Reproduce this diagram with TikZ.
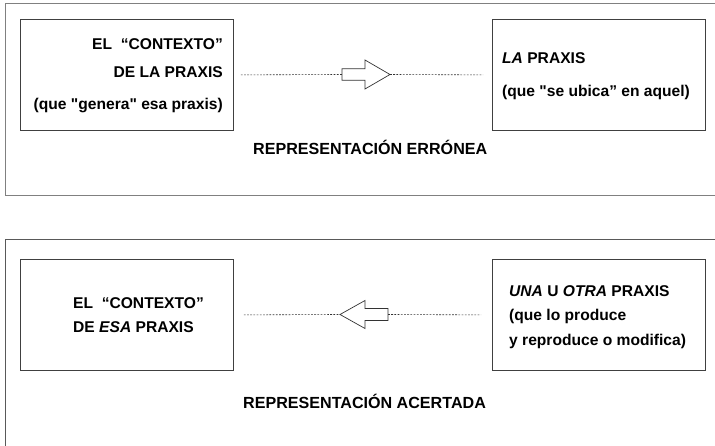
\documentclass[tikz,border=0pt]{standalone}
\usepackage{fontspec}
\setmainfont[Ligatures=TeXOff]{Liberation Sans}
\begin{document}
\begin{tikzpicture}[x=1pt,y=-1pt,
  frame/.style={draw=black!50,line width=1pt},
  box/.style={draw=black!75,line width=0.8pt,rectangle,inner sep=0pt,minimum width=213pt,minimum height=111pt},
  txt/.style={inner sep=0pt,font=\fontsize{15.6}{18}\selectfont\bfseries},
  ttl/.style={inner sep=0pt,font=\fontsize{16.1}{18}\selectfont\bfseries},
  dotline/.style={draw=black!80,line width=0.6pt,dash pattern=on 1.8pt off 1.4pt},
  blockarrow/.style={draw=black!80,line width=0.7pt,fill=white,line join=miter}]
\useasboundingbox (0,0) rectangle (715,446);
% frames
\draw[frame] (716,4) -- (5,4) -- (5,196) -- (716,196);
\draw[frame,draw=black!65] (716,240) -- (5,240) -- (5,447);
% boxes
\node[box,anchor=north west] (b1) at (20,19) {};
\node[box,anchor=north west] (b2) at (492,19) {};
\node[box,anchor=north west] (b3) at (20,259) {};
\node[box,anchor=north west] (b4) at (492,259) {};
% texts box 1
\node[txt,anchor=base east] (t11) at (223,50) {EL\ \ “CONTEXTO”};
\node[txt,anchor=base east] (t12) at (223,78) {DE LA PRAXIS};
\node[txt,anchor=base east] (t13) at (223,110) {(que "genera" esa praxis)};
% texts box 2
\node[txt,anchor=base west] (t21) at (502,64) {\textit{LA} PRAXIS};
\node[txt,anchor=base west] (t22) at (502,97) {(que "se ubica” en aquel)};
% texts box 3
\node[txt,anchor=base west] (t31) at (73,309) {EL\ \ “CONTEXTO”};
\node[txt,anchor=base west] (t32) at (73,333) {DE \textit{ESA} PRAXIS};
% texts box 4
\node[txt,anchor=base west] (t41) at (509,297) {\textit{UNA} U \textit{OTRA} PRAXIS};
\node[txt,anchor=base west] (t42) at (509,321) {(que lo produce};
\node[txt,anchor=base west] (t43) at (509,345) {y reproduce o modifica)};
% titles
\node[ttl,anchor=base west] (ti1) at (253,155) {REPRESENTACIÓN ERRÓNEA};
\node[ttl,anchor=base west] (ti2) at (243,408) {REPRESENTACIÓN ACERTADA};
% arrow 1 (right)
\coordinate (a1tail) at (342,74.5);
\coordinate (a1tip) at (390,74.5);
\draw[blockarrow] (342,68.7) -- (365,68.7) -- (365,60) -- (390,74.5) -- (365,89) -- (365,80.3) -- (342,80.3) -- cycle;
\draw[dotline] (b1.east) ++(7,0) -- (a1tail);
\draw[dotline] (a1tip) -- ([xshift=-9pt]b2.west);
% arrow 2 (left)
\coordinate (a2tip) at (340,314.5);
\coordinate (a2tail) at (388,314.5);
\draw[blockarrow] (388,308.5) -- (365,308.5) -- (365,300.5) -- (340,314.5) -- (365,328.5) -- (365,320.5) -- (388,320.5) -- cycle;
\draw[dotline] ([xshift=10pt]b3.east) -- (a2tip);
\draw[dotline] (a2tail) -- ([xshift=-11pt]b4.west);
\end{tikzpicture}
\end{document}
